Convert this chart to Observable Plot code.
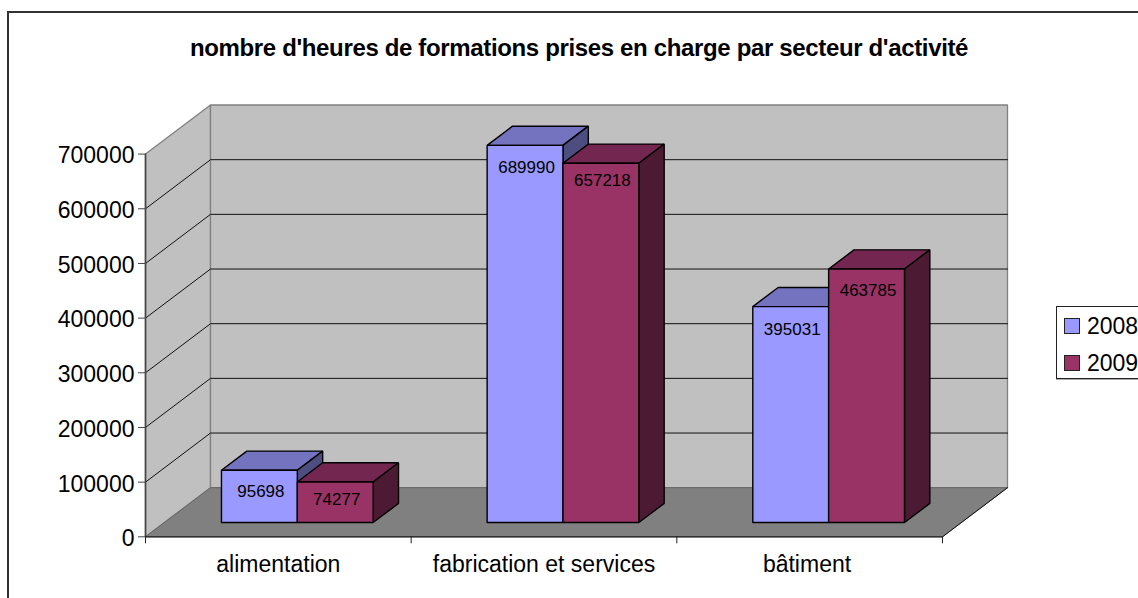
<!DOCTYPE html>
<html><head><meta charset="utf-8">
<script src="https://cdn.jsdelivr.net/npm/d3@7"></script>
<script src="https://cdn.jsdelivr.net/npm/@observablehq/plot@0.6"></script>
<style>
html,body{margin:0;padding:0;background:#fff;overflow:hidden}
#wrap{position:relative;width:1138px;height:598px;overflow:hidden;font-family:"Liberation Sans",Arial,sans-serif}
#frame{position:absolute;left:7px;top:11px;width:1140px;height:600px;border:2px solid #333;box-sizing:border-box}
#title{position:absolute;left:10px;width:1138px;text-align:center;top:34px;font-size:24px;font-weight:bold;color:#000;white-space:nowrap;letter-spacing:-.35px}
#legend{position:absolute;left:1056px;top:306px;width:100px;height:73px;border:1px solid #222;box-shadow:0 1px 0 #aaa;box-sizing:border-box;background:#fff}
.sw{position:absolute;left:7px;width:16px;height:16px;border:1.3px solid #222;box-sizing:border-box}
.lb{position:absolute;left:30px;font-size:23px;line-height:22px;color:#000}
svg{position:absolute;left:0;top:0}
</style></head><body>
<div id="wrap">
<div id="frame"></div>
<div id="title">nombre d'heures de formations prises en charge par secteur d'activité</div>
<div id="plot"></div>
<div id="legend"></div>
</div>
<script>
const categories = ["alimentation","fabrication et services","bâtiment"];
const years = ["2008","2009"];
const values2008 = [95698,689990,395031];
const values2009 = [74277,657218,463785];
const yTicks = [0,100000,200000,300000,400000,500000,600000,700000];
const frontColors = ["#9999ff","#993366"];
const topColors = ["#7373bf","#732650"];
const sideColors = ["#4d4d80","#4d1a33"];
const labelDy = [[21,22,23],[18,17,22]];

// oblique projection, in data units
const depthX = 0.2447, depthY = 89800, yMax = 700000;
const barFront = 0.29, barBack = 0.68, barStart = 0.215, barW = 0.2855;
const px = (x,d)=>x+d*depthX, py=(y,d)=>y+d*depthY;
const pts = (list)=>list.map(([x,y,d])=>({x:px(x,d),y:py(y,d)}));
const poly = (list,fill,stroke,sw=1)=>Plot.line(pts(list),{x:"x",y:"y",fill,stroke,strokeWidth:sw,curve:"linear-closed",strokeLinejoin:"miter"});
const edge = (list,stroke,sw=1)=>Plot.line(pts(list),{x:"x",y:"y",stroke,strokeWidth:sw});

const marks = [];
// walls and floor
marks.push(poly([[0,0,0],[0,yMax,0],[0,yMax,1],[0,0,1]],"#c0c0c0","#808080",1.3));
marks.push(poly([[0,0,1],[0,yMax,1],[3,yMax,1],[3,0,1]],"#c0c0c0","#808080",1.3));
marks.push(poly([[0,0,0],[0,0,1],[3,0,1],[3,0,0]],"#808080","#666",1));
// gridlines
yTicks.slice(1,-1).forEach(v=>{marks.push(edge([[0,v,0],[0,v,1],[3,v,1]],"#111",1));});
marks.push(edge([[0,0,0],[3,0,0],[3,0,1]],"#111",1));
marks.push(edge([[0,0,0],[0,yMax,0]],"#444",1.6));

// bars
const series=[values2008,values2009];
categories.forEach((c,i)=>{
  series.forEach((vals,s)=>{
    const x0=i+barStart+s*barW, x1=x0+barW, v=vals[i];
    const F=barFront,B=barBack;
    marks.push(poly([[x0,v,F],[x1,v,F],[x1,v,B],[x0,v,B]],topColors[s],"#000",1.4));
    marks.push(poly([[x1,0,F],[x1,v,F],[x1,v,B],[x1,0,B]],sideColors[s],"#000",1.4));
    marks.push(poly([[x0,0,F],[x1,0,F],[x1,v,F],[x0,v,F]],frontColors[s],"#000",1.4));
  });
});
categories.forEach((c,i)=>{
  series.forEach((vals,s)=>{
    const x0=i+barStart+s*barW, v=vals[i];
    marks.push(Plot.text([v],{x:()=>px(x0+barW/2,barFront),y:d=>py(d,barFront),text:d=>String(d),dy:labelDy[s][i],dx:1.5,fontSize:17,fill:"#000"}));
  });
});
// axes
marks.push(Plot.axisY({ticks:yTicks,tickSize:7,tickFormat:()=>"",label:null,stroke:"#444"}));
marks.push(Plot.axisY({ticks:yTicks,tickSize:0,tickPadding:11,dy:2,tickFormat:d=>String(d),label:null,color:"#000"}));
marks.push(Plot.axisX({ticks:[0,1,2,3],tickSize:7,tickFormat:()=>"",label:null,stroke:"#222"}));
marks.push(Plot.axisX({ticks:[0.5,1.5,2.49],tickSize:0,tickPadding:19,tickFormat:d=>categories[Math.floor(d)],label:null,textOverflow:null,lineWidth:30}));

const chart = Plot.plot({
  width:1138,height:598,
  marginLeft:145,marginRight:131,marginTop:104.5,marginBottom:61.7,
  x:{type:"linear",domain:[0,3+depthX]},
  y:{type:"linear",domain:[0,yMax+depthY]},
  style:{fontFamily:"'Liberation Sans',Arial,sans-serif",fontSize:"23px",background:"transparent",color:"#000"},
  marks
});
document.getElementById("plot").appendChild(chart);

const lg=document.getElementById("legend");
years.forEach((y,i)=>{
  const tops=[11,48];
  const sw=document.createElement("div");sw.className="sw";sw.style.top=tops[i]+"px";sw.style.background=frontColors[i];
  const lb=document.createElement("div");lb.className="lb";lb.style.top=(tops[i]-3)+"px";lb.textContent=y;
  lg.append(sw,lb);
});
</script>
</body></html>
